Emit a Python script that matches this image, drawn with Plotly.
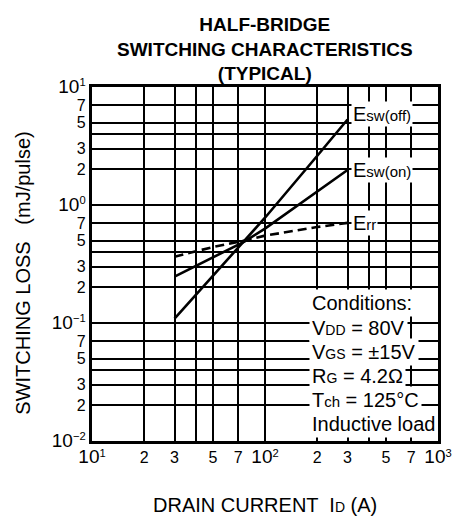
import math
import plotly.graph_objects as go

# ---- data ----
drain_current = [30, 50, 76, 100, 200, 300]          # A
esw_off = [0.109, 0.25, 0.49, 0.78, 2.6, 5.3]         # mJ/pulse
esw_on = [0.247, 0.36, 0.49, 0.63, 1.3, 1.98]
err = [0.365, 0.44, 0.50, 0.55, 0.65, 0.705]

x_tickvals = [10, 20, 30, 50, 70, 100, 200, 300, 500, 700, 1000]
x_ticktext = ["<span style='font-size:19px'>10</span><sup>1</sup>", "2", "3", "5", "7",
              "<span style='font-size:19px'>10</span><sup>2</sup>", "2", "3", "5", "7",
              "<span style='font-size:19px'>10</span><sup>3</sup>"]
x_minor_grid = [40, 400]
y_tickvals = [0.01, 0.02, 0.03, 0.05, 0.07, 0.1, 0.2, 0.3, 0.5, 0.7,
              1, 2, 3, 5, 7, 10]
y_ticktext = ["<span style='font-size:19px'>10</span><sup>\u22122</sup>", "2", "3", "5", "7",
              "<span style='font-size:19px'>10</span><sup>\u22121</sup>", "2", "3", "5", "7",
              "<span style='font-size:19px'>10</span><sup>0</sup>", "2", "3", "5", "7",
              "<span style='font-size:19px'>10</span><sup>1</sup>"]
y_minor_grid = [0.04, 0.4, 4]

conditions = [
    "Conditions:",
    "V<span style='font-size:14px'>DD</span> = 80V",
    "V<span style='font-size:14px'>GS</span> = \u00b115V",
    "R<span style='font-size:14px'>G</span> = 4.2\u03a9",
    "T<span style='font-size:15px'>ch</span> = 125\u00b0C",
    "Inductive load",
]

FONT = "Liberation Sans, Arial, Helvetica, sans-serif"

fig = go.Figure()
fig.add_trace(go.Scatter(x=drain_current, y=esw_off, mode="lines",
                         line=dict(color="black", width=2.6), showlegend=False))
fig.add_trace(go.Scatter(x=drain_current, y=esw_on, mode="lines",
                         line=dict(color="black", width=2.6), showlegend=False))
fig.add_trace(go.Scatter(x=drain_current, y=err, mode="lines",
                         line=dict(color="black", width=2.6, dash="9px,5px"), showlegend=False))

labels = [
    ("E<span style='font-size:15px'>sw(off)</span>", esw_off[-1], 6),
    ("E<span style='font-size:15px'>sw(on)</span>", esw_on[-1], 0),
    ("E<span style='font-size:15px'>rr</span>", err[-1], 0),
]
for txt, yv, ys in labels:
    fig.add_annotation(x=math.log10(drain_current[-1]), y=math.log10(yv), xref="x", yref="y",
                       text=txt, showarrow=False, xanchor="left", yanchor="middle",
                       xshift=3, yshift=ys, bgcolor="white", borderpad=1,
                       font=dict(family=FONT, size=20, color="black"))

cond_y = [0.390, 0.319, 0.251, 0.184, 0.116, 0.048]
for txt, yp in zip(conditions, cond_y):
    fig.add_annotation(x=0.628, y=yp, xref="paper", yref="paper", text=txt,
                       showarrow=False, xanchor="left", yanchor="middle",
                       bgcolor="white", borderpad=2,
                       font=dict(family=FONT, size=20, color="black"))

# title
fig.add_annotation(x=0.5, y=1.212, xref="paper", yref="paper",
                   text="<b>HALF-BRIDGE<br>SWITCHING CHARACTERISTICS<br>(TYPICAL)</b>",
                   showarrow=False, xanchor="center", yanchor="top",
                   font=dict(family=FONT, size=19, color="black"))

# axis titles
fig.add_annotation(x=-0.2, y=0.475, xref="paper", yref="paper",
                   text="SWITCHING LOSS   (mJ/pulse)", textangle=-90, showarrow=False,
                   xanchor="center", yanchor="middle",
                   font=dict(family=FONT, size=20, color="black"))
fig.add_annotation(x=0.5, y=-0.181, xref="paper", yref="paper",
                   text="DRAIN CURRENT  I<span style='font-size:14px'>D</span> (A)",
                   showarrow=False, xanchor="center", yanchor="middle",
                   font=dict(family=FONT, size=20, color="black"))

axis_common = dict(type="log", showline=True, linecolor="black", linewidth=3.3, mirror=True,
                   showgrid=True, gridcolor="black", gridwidth=1.5, ticks="",
                   tickmode="array", tickfont=dict(family=FONT, size=16, color="black"),
                   zeroline=False)

fig.update_layout(
    width=464, height=521,
    margin=dict(l=92, r=17, t=87, b=80),
    paper_bgcolor="white", plot_bgcolor="white",
    xaxis=dict(range=[1, 3], tickvals=x_tickvals, ticktext=x_ticktext,
               minor=dict(tickmode="array", tickvals=x_minor_grid, showgrid=True,
                          gridcolor="black", gridwidth=1.5, ticks=""),
               **axis_common),
    yaxis=dict(range=[-2, 1], tickvals=y_tickvals, ticktext=y_ticktext,
               minor=dict(tickmode="array", tickvals=y_minor_grid, showgrid=True,
                          gridcolor="black", gridwidth=1.5, ticks=""),
               **axis_common),
)

fig.write_html("out.html", config={"displayModeBar": False},
               post_script="document.body.style.margin='0';")
